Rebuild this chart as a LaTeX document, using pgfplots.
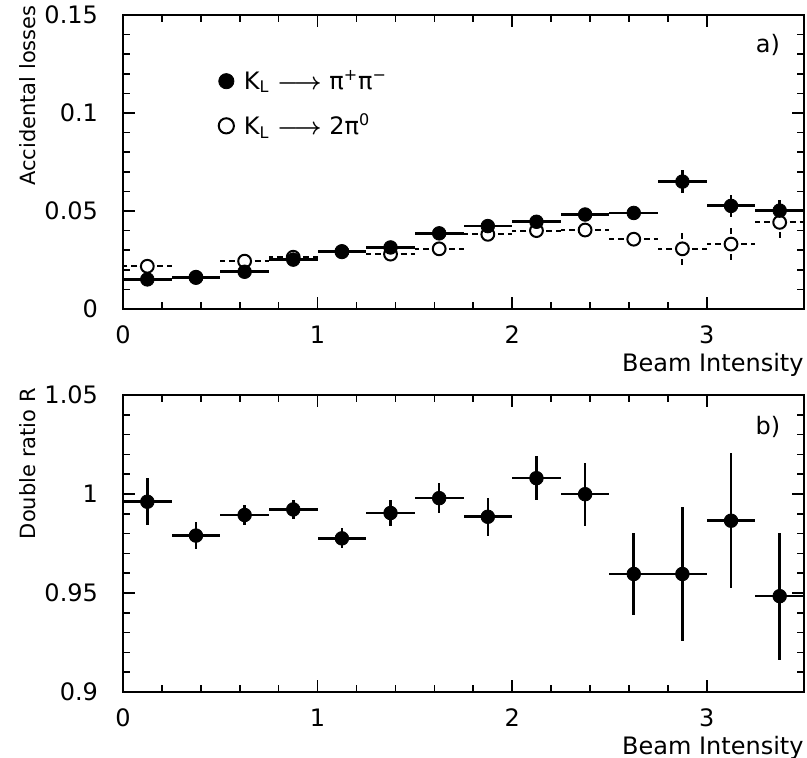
\documentclass[border=0pt]{standalone}
\usepackage{amsmath}
\usepackage{fontspec}
\setmainfont{DejaVu Sans}
\usepackage{pgfplots}
\usepackage{pgfplotstable}
\pgfplotsset{compat=1.18}

% K_L -> pi+ pi- (filled)
\pgfplotstableread{
x y ex ey
0.125 0.0151 0.125 0.0012
0.375 0.0160 0.125 0.0012
0.625 0.0190 0.125 0.0012
0.875 0.0252 0.125 0.0012
1.125 0.0294 0.125 0.0012
1.375 0.0314 0.125 0.0015
1.625 0.0386 0.125 0.0015
1.875 0.0423 0.125 0.0015
2.125 0.0445 0.125 0.0018
2.375 0.0482 0.125 0.0020
2.625 0.0490 0.125 0.0030
2.875 0.0650 0.125 0.0060
3.125 0.0526 0.125 0.0058
3.375 0.0502 0.125 0.0052
}\pipi

% K_L -> 2 pi0 (open)
\pgfplotstableread{
x y ex ey
0.125 0.0218 0.125 0.0015
0.375 0.0162 0.125 0.0015
0.625 0.0244 0.125 0.0015
0.875 0.0264 0.125 0.0015
1.125 0.0292 0.125 0.0015
1.375 0.0280 0.125 0.0020
1.625 0.0307 0.125 0.0020
1.875 0.0381 0.125 0.0022
2.125 0.0400 0.125 0.0025
2.375 0.0403 0.125 0.0030
2.625 0.0356 0.125 0.0050
2.875 0.0307 0.125 0.0090
3.125 0.0331 0.125 0.0080
3.375 0.0442 0.125 0.0090
}\pizero

% Double ratio R
\pgfplotstableread{
x y ex ey
0.125 0.9961 0.125 0.0120
0.375 0.9790 0.125 0.0067
0.625 0.9894 0.125 0.0050
0.875 0.9922 0.125 0.0050
1.125 0.9776 0.125 0.0050
1.375 0.9904 0.125 0.0065
1.625 0.9979 0.125 0.0076
1.875 0.9885 0.125 0.0095
2.125 1.0080 0.125 0.0110
2.375 0.9999 0.125 0.0160
2.625 0.9596 0.125 0.0206
2.875 0.9596 0.125 0.0336
3.125 0.9865 0.125 0.0340
3.375 0.9484 0.125 0.0320
}\ratio

\pgfplotsset{
  panel/.style={
    scale only axis, width=340.5pt,
    xmin=0, xmax=3.5, xtick={0,1,2,3}, minor x tick num=4, minor y tick num=4,
    tick align=inside, tick pos=both,
    major tick length=6pt, minor tick length=3.5pt,
    axis line style={line width=1pt},
    every tick/.style={black, line width=0.8pt},
    /pgf/number format/assume math mode=true,
    yticklabel style={/pgf/number format/fixed, /pgf/number format/precision=2, xshift=-9pt},
    scaled y ticks=false,
    xticklabel style={yshift=-5pt},
    xlabel={Beam Intensity},
    xlabel style={at={(rel axis cs:1,0)}, anchor=north east, inner sep=0pt, yshift=-22pt},
    ylabel style={anchor=south east, inner sep=0pt, font=\fontsize{10.5}{12}\selectfont},
    clip=true,
  },
  errstyle/.style={error bars/.cd, x dir=both, x explicit, y dir=both, y explicit, error mark=none},
}

\begin{document}
\begin{tikzpicture}[font=\fontsize{12}{14}\selectfont]
\path[use as bounding box] (-61.5pt,7.5pt) rectangle (342pt,-371.5pt);

\begin{axis}[panel, at={(0,0)}, anchor=north west, height=147pt,
  ymin=0, ymax=0.15, ytick={0,0.05,0.1,0.15},
  ylabel={Accidental losses},
  ylabel style={at={(rel axis cs:-0.1278,1.034)}},
  legend style={draw=none, fill=none, at={(rel axis cs:0.14,0.82)}, anchor=north west,
    row sep=9pt, inner sep=0pt, nodes={inner sep=1pt},
    /tikz/every odd column/.append style={column sep=4pt}},
  legend cell align=left,
  legend image code/.code={\draw[#1] plot coordinates {(0.12cm,0cm)};},
]
\addlegendimage{only marks, mark=*, mark size=3.8pt, black}
\addlegendentry{K\textsubscript{L} $\boldsymbol{\longrightarrow}$ π\textsuperscript{+}π\textsuperscript{−}}
\addlegendimage{only marks, mark=*, mark size=3.8pt, black, mark options={fill=white, line width=1pt}}
\addlegendentry{K\textsubscript{L} $\boldsymbol{\longrightarrow}$ 2π\textsuperscript{0}}

\addplot+[forget plot, only marks, black, mark=*, mark size=3.2pt,
  mark options={solid, fill=white, line width=1pt},
  errstyle, error bar style={line width=1pt, dash pattern=on 3pt off 2pt}]
  table[x=x, y=y, x error=ex, y error=ey] {\pizero};
\addplot+[forget plot, only marks, black, mark=*, mark size=3.4pt,
  mark options={solid, fill=black},
  errstyle, error bar style={line width=1.4pt, solid}]
  table[x=x, y=y, x error=ex, y error=ey] {\pipi};
\node at (rel axis cs:0.947,0.898) {a)};
\end{axis}

\begin{axis}[panel, at={(0,-190pt)}, anchor=north west, height=148.5pt,
  ymin=0.9, ymax=1.05, ytick={0.9,0.95,1,1.05},
  ylabel={Double ratio R},
  ylabel style={at={(rel axis cs:-0.1278,1.024)}},
]
\addplot+[only marks, black, mark=*, mark size=3.4pt,
  mark options={solid, fill=black},
  errstyle, error bar style={line width=1.3pt, solid}]
  table[x=x, y=y, x error=ex, y error=ey] {\ratio};
\node at (rel axis cs:0.947,0.892) {b)};
\end{axis}
\end{tikzpicture}
\end{document}
